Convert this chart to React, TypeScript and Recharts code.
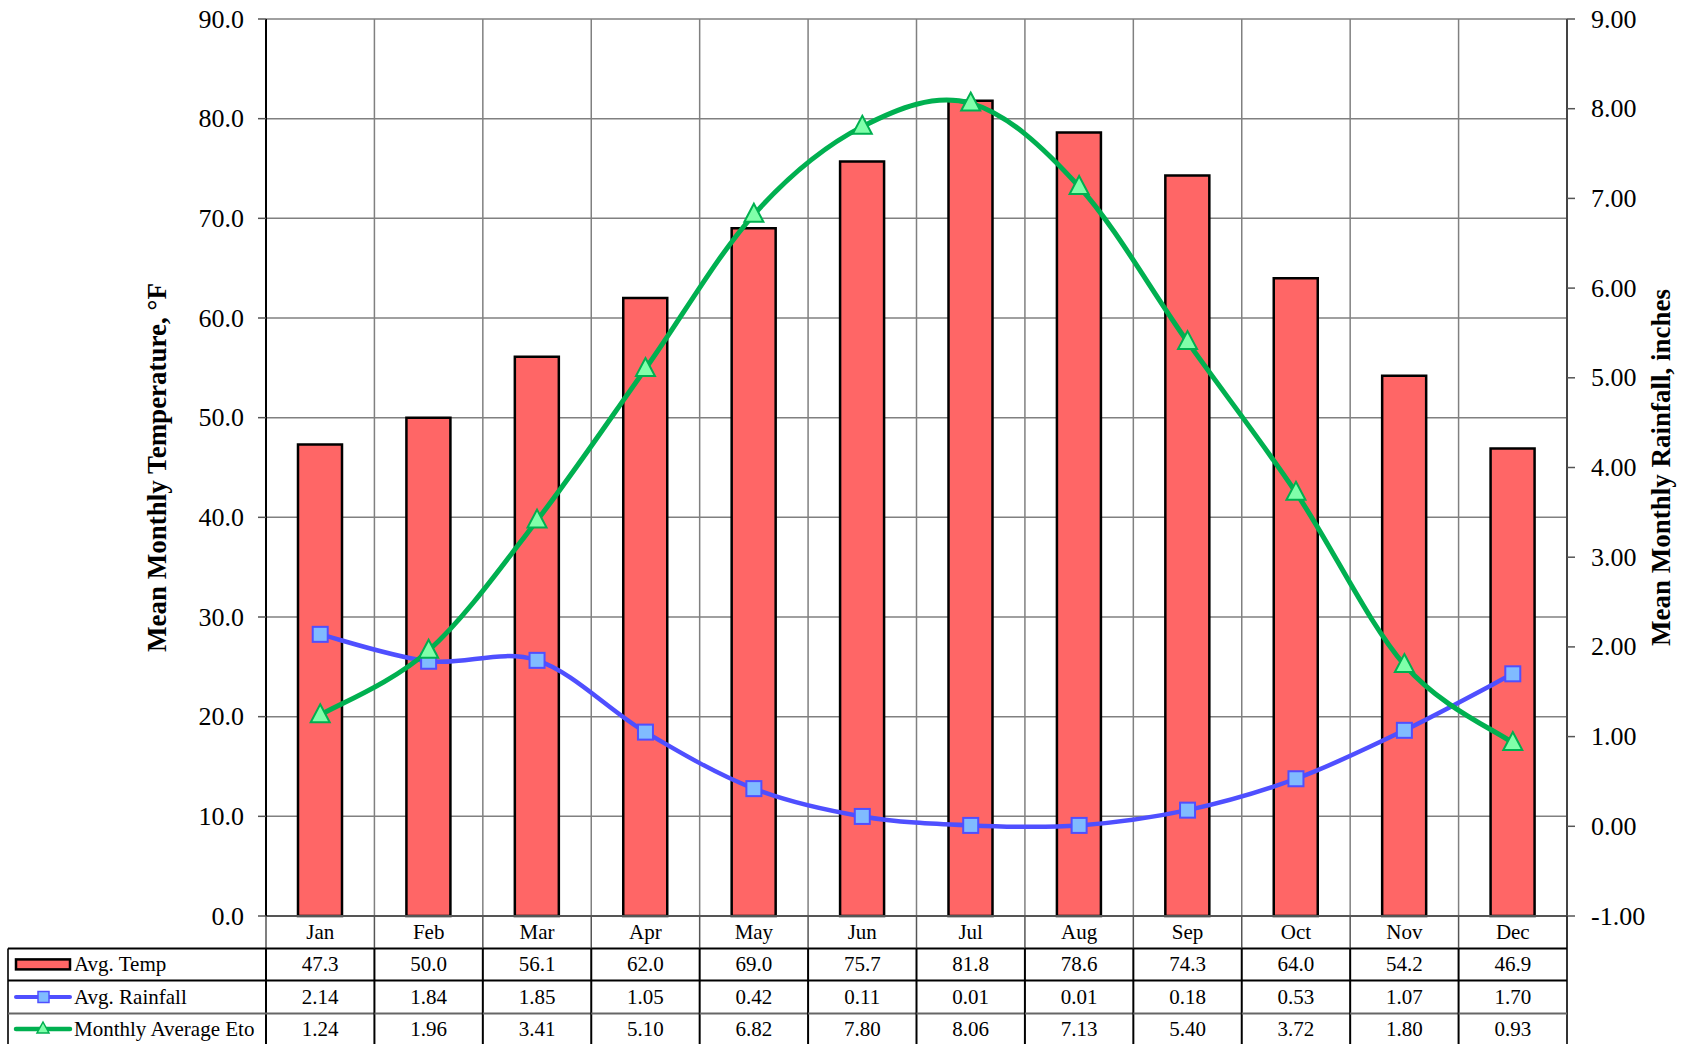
import React from 'react';
import {
  Bar,
  CartesianGrid,
  ComposedChart,
  Line,
  XAxis,
  YAxis,
} from 'recharts';

// values
const months = ['Jan', 'Feb', 'Mar', 'Apr', 'May', 'Jun', 'Jul', 'Aug', 'Sep', 'Oct', 'Nov', 'Dec'];
const avgTemp = [47.3, 50.0, 56.1, 62.0, 69.0, 75.7, 81.8, 78.6, 74.3, 64.0, 54.2, 46.9];
const avgRainfall = [2.14, 1.84, 1.85, 1.05, 0.42, 0.11, 0.01, 0.01, 0.18, 0.53, 1.07, 1.7];
const monthlyEto = [1.24, 1.96, 3.41, 5.1, 6.82, 7.8, 8.06, 7.13, 5.4, 3.72, 1.8, 0.93];
const seriesNames = ['Avg. Temp', 'Avg. Rainfall', 'Monthly Average Eto'];
const leftTicks = [0, 10, 20, 30, 40, 50, 60, 70, 80, 90];
const rightTicks = [-1, 0, 1, 2, 3, 4, 5, 6, 7, 8, 9];

const data = months.map((m, i) => ({
  month: m,
  temp: avgTemp[i],
  rain: avgRainfall[i],
  eto: monthlyEto[i],
}));

const W = 1691;
const H = 1044;
const LEFT_W = 266;
const RIGHT_W = 124;
const TABLE_H = 128;
const STEP = (W - LEFT_W - RIGHT_W) / months.length;
const FONT = '"Liberation Serif", "Times New Roman", serif';

const BAR_FILL = '#FF6666';
const BLUE = '#4F4FFF';
const BLUE_FILL = '#80BBFF';
const GREEN = '#00B050';
const GREEN_FILL = '#80FFAA';

// Excel-like smoothed line (cardinal spline, tension 0)
const excelSmooth = (context: any) => {
  let pts: number[][] = [];
  return {
    areaStart() {},
    areaEnd() {},
    lineStart() {
      pts = [];
    },
    point(x: number, y: number) {
      pts.push([+x, +y]);
    },
    lineEnd() {
      const n = pts.length;
      if (!n) return;
      context.moveTo(pts[0][0], pts[0][1]);
      for (let i = 0; i < n - 1; i++) {
        const p0 = pts[i - 1] || pts[i];
        const p1 = pts[i];
        const p2 = pts[i + 1];
        const p3 = pts[i + 2] || pts[i + 1];
        context.bezierCurveTo(
          p1[0] + (p2[0] - p0[0]) / 6,
          p1[1] + (p2[1] - p0[1]) / 6,
          p2[0] - (p3[0] - p1[0]) / 6,
          p2[1] - (p3[1] - p1[1]) / 6,
          p2[0],
          p2[1],
        );
      }
    },
  };
};

function SquareDot(props: any) {
  const { cx, cy, index } = props;
  const s = 15;
  return (
    <rect
      key={`sq-${index}`}
      x={cx - s / 2}
      y={cy - s / 2}
      width={s}
      height={s}
      fill={BLUE_FILL}
      stroke={BLUE}
      strokeWidth={2}
    />
  );
}

function TriangleDot(props: any) {
  const { cx, cy, index } = props;
  const w = 19;
  const h = 18;
  return (
    <polygon
      key={`tr-${index}`}
      points={`${cx},${cy - h * 0.6} ${cx + w / 2},${cy + h * 0.4} ${cx - w / 2},${cy + h * 0.4}`}
      fill={GREEN_FILL}
      stroke={GREEN}
      strokeWidth={2}
    />
  );
}

function AxisTick(props: any) {
  const { x, y, payload, textAnchor, digits } = props;
  return (
    <text
      x={x}
      y={y}
      textAnchor={textAnchor}
      dominantBaseline="central"
      fontFamily={FONT}
      fontSize={26}
      fill="#000"
    >
      {Number(payload.value).toFixed(digits)}
    </text>
  );
}

// category label plus the data table column for one month
function TableTick(props: any) {
  const { x, y, index } = props;
  const rows = [32.4, 64.4, 97.4, TABLE_H];
  const mid = [16.4, 48.4, 81, 113];
  const vals = [avgTemp[index].toFixed(1), avgRainfall[index].toFixed(2), monthlyEto[index].toFixed(2)];
  const left = x - STEP / 2;
  const right = x + STEP / 2;
  const txt = { fontFamily: FONT, fontSize: 21, fill: '#000', dominantBaseline: 'central' as const };

  return (
    <g>
      <line x1={left} x2={left} y1={y} y2={y + rows[0]} stroke="#555" strokeWidth={1.5} />
      <line x1={left} x2={left} y1={y + rows[0]} y2={y + TABLE_H} stroke="#000" strokeWidth={2} />
      {index === months.length - 1 && (
        <line x1={right} x2={right} y1={y} y2={y + TABLE_H} stroke="#333" strokeWidth={2} />
      )}
      <text x={x} y={y + mid[0]} textAnchor="middle" {...txt}>
        {months[index]}
      </text>
      {vals.map((v, r) => (
        <text key={r} x={x} y={y + mid[r + 1]} textAnchor="middle" {...txt}>
          {v}
        </text>
      ))}
      {[0, 1, 2].map((r) => (
        <line
          key={`h${r}`}
          x1={left}
          x2={right}
          y1={y + rows[r]}
          y2={y + rows[r]}
          stroke={r === 2 ? '#666' : '#000'}
          strokeWidth={2}
        />
      ))}
      {index === 0 && (
        <g>
          <line x1={8} x2={8} y1={y + rows[0]} y2={y + TABLE_H} stroke="#333" strokeWidth={2} />
          {[0, 1, 2].map((r) => (
            <line
              key={`lh${r}`}
              x1={8}
              x2={left}
              y1={y + rows[r]}
              y2={y + rows[r]}
              stroke={r === 2 ? '#666' : '#000'}
              strokeWidth={2}
            />
          ))}
          <rect x={16} y={y + mid[1] - 5} width={54} height={10} fill={BAR_FILL} stroke="#000" strokeWidth={2.5} />
          <line x1={16} x2={70} y1={y + mid[2]} y2={y + mid[2]} stroke={BLUE} strokeWidth={4} strokeLinecap="round" />
          <rect x={38} y={y + mid[2] - 5.5} width={11} height={11} fill={BLUE_FILL} stroke={BLUE} strokeWidth={1.5} />
          <line x1={16} x2={70} y1={y + mid[3]} y2={y + mid[3]} stroke={GREEN} strokeWidth={4.5} strokeLinecap="round" />
          <polygon
            points={`43,${y + mid[3] - 7} 49,${y + mid[3] + 4} 37,${y + mid[3] + 4}`}
            fill={GREEN_FILL}
            stroke={GREEN}
            strokeWidth={1.5}
          />
          {seriesNames.map((n, r) => (
            <text key={n} x={74} y={y + mid[r + 1]} textAnchor="start" {...txt}>
              {n}
            </text>
          ))}
        </g>
      )}
    </g>
  );
}

export default function App(): JSX.Element {
  return (
    <div style={{ position: 'absolute', left: 0, top: 0, width: W, height: H, background: '#fff' }}>
      <ComposedChart width={W} height={H} data={data} margin={{ top: 19, right: 0, bottom: 0, left: 0 }}>
        <CartesianGrid
          yAxisId="left"
          stroke="#808080"
          strokeWidth={1.5}
          verticalCoordinatesGenerator={({ offset }: any) =>
            months.map((_, i) => offset.left + (i * offset.width) / months.length).concat([offset.left + offset.width])
          }
        />
        <XAxis
          dataKey="month"
          height={TABLE_H}
          interval={0}
          tickSize={0}
          tickMargin={0}
          tickLine={false}
          axisLine={{ stroke: '#555', strokeWidth: 2 }}
          tick={(p: any) => <TableTick {...p} />}
        />
        <YAxis
          yAxisId="left"
          width={LEFT_W}
          domain={[0, 90]}
          ticks={leftTicks}
          interval={0}
          tickSize={8}
          tickMargin={14}
          tick={(p: any) => <AxisTick {...p} digits={1} />}
          tickLine={{ stroke: '#555', strokeWidth: 1.5 }}
          axisLine={{ stroke: '#000', strokeWidth: 2 }}
          label={{
            value: 'Mean Monthly Temperature, °F',
            angle: -90,
            position: 'insideLeft',
            offset: 156,
            style: { textAnchor: 'middle', fontFamily: FONT, fontSize: 27, fontWeight: 'bold', fill: '#000' },
          }}
        />
        <YAxis
          yAxisId="right"
          orientation="right"
          width={RIGHT_W}
          domain={[-1, 9]}
          ticks={rightTicks}
          interval={0}
          tickSize={8}
          tickMargin={16}
          tick={(p: any) => <AxisTick {...p} digits={2} />}
          tickLine={{ stroke: '#555', strokeWidth: 1.5 }}
          axisLine={{ stroke: '#444', strokeWidth: 2 }}
          label={{
            value: 'Mean Monthly Rainfall, inches',
            angle: -90,
            position: 'insideRight',
            offset: 31,
            style: { textAnchor: 'middle', fontFamily: FONT, fontSize: 27, fontWeight: 'bold', fill: '#000' },
          }}
        />
        <Bar
          yAxisId="left"
          dataKey="temp"
          name={seriesNames[0]}
          barSize={44}
          fill={BAR_FILL}
          stroke="#000"
          strokeWidth={2.5}
          isAnimationActive={false}
        />
        <Line
          yAxisId="right"
          dataKey="rain"
          name={seriesNames[1]}
          type={excelSmooth as any}
          stroke={BLUE}
          strokeWidth={4.5}
          dot={(p: any) => <SquareDot {...p} />}
          activeDot={false}
          isAnimationActive={false}
        />
        <Line
          yAxisId="right"
          dataKey="eto"
          name={seriesNames[2]}
          type={excelSmooth as any}
          stroke={GREEN}
          strokeWidth={5}
          dot={(p: any) => <TriangleDot {...p} />}
          activeDot={false}
          isAnimationActive={false}
        />
      </ComposedChart>
    </div>
  );
}
